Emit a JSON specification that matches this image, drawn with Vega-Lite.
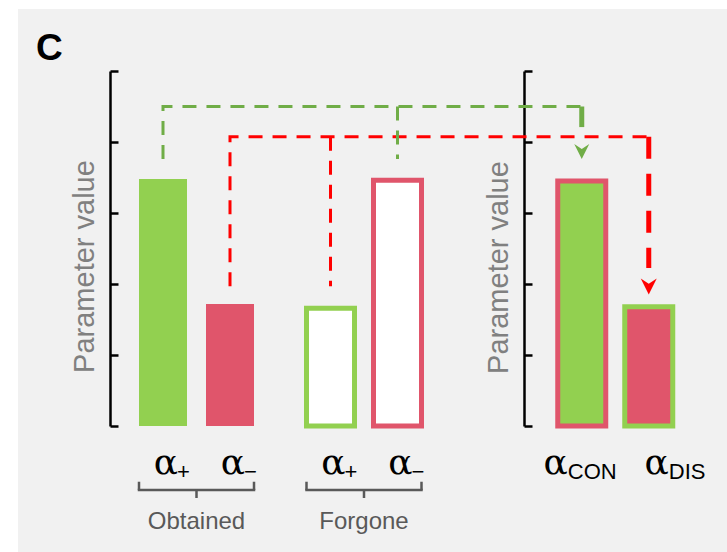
{
  "$schema": "https://vega.github.io/schema/vega-lite/v6.json",
  "width": 709,
  "height": 543,
  "autosize": "none",
  "padding": {"left": 18, "top": 9, "right": 0, "bottom": 0},
  "background": "#ffffff",
  "config": {"view": {"fill": "#f1f1f1", "stroke": null}, "font": "Liberation Sans"},
  "title": {"text": "C", "anchor": "start", "frame": "group", "offset": 0, "dx": 18, "dy": 88, "baseline": "alphabetic", "fontSize": 37, "fontWeight": "bold", "font": "Liberation Sans", "color": "#000000"},
  "datasets": {
    "bars": [
      {"param": "O+", "outcome": "Obtained", "sub": "+", "value": 3.48, "fillSign": "positive", "edgeSign": "none"},
      {"param": "O−", "outcome": "Obtained", "sub": "−", "value": 1.72, "fillSign": "negative", "edgeSign": "none"},
      {"param": "F+", "outcome": "Forgone", "sub": "+", "value": 1.66, "fillSign": "none", "edgeSign": "positive"},
      {"param": "F−", "outcome": "Forgone", "sub": "−", "value": 3.46, "fillSign": "none", "edgeSign": "negative"},
      {"param": "CON", "outcome": "Combined", "sub": "CON", "value": 3.45, "fillSign": "positive", "edgeSign": "negative"},
      {"param": "DIS", "outcome": "Combined", "sub": "DIS", "value": 1.68, "fillSign": "negative", "edgeSign": "positive"}
    ],
    "links": [
      {"path": "gain", "step": 1, "param": "O+", "level": 3.76},
      {"path": "gain", "step": 2, "param": "O+", "level": 4.5},
      {"path": "gain", "step": 3, "param": "CON", "level": 4.5},
      {"path": "loss", "step": 1, "param": "O−", "level": 1.97},
      {"path": "loss", "step": 2, "param": "O−", "level": 4.075},
      {"path": "loss", "step": 3, "param": "DIS", "level": 4.075}
    ],
    "branches": [
      {"path": "gain", "param": "F−", "top": 4.5, "bottom": 3.76},
      {"path": "loss", "param": "F+", "top": 4.075, "bottom": 1.97}
    ],
    "arrows": [
      {"path": "gain", "param": "CON", "top": 4.5, "shaftEnd": 4.21, "head": 3.866},
      {"path": "loss", "param": "DIS", "top": 4.075, "shaftEnd": 2.225, "head": 1.965}
    ],
    "brackets": [
      {"outcome": "Obtained", "param": "O+", "last": "O−"},
      {"outcome": "Forgone", "param": "F+", "last": "F−"}
    ]
  },
  "encoding": {
    "x": {"field": "param", "type": "nominal", "axis": null,
      "scale": {"type": "band", "paddingInner": 0, "paddingOuter": 0, "range": [136.625, 639.125],
        "domain": ["O+", "_1", "_2", "_3", "O−", "_5", "_6", "_7", "_8", "_9", "F+", "_11", "_12", "_13", "F−", "_15", "_16", "_17", "_18", "_19", "_20", "_21", "_22", "_23", "_24", "CON", "_26", "_27", "_28", "DIS"]}}
  },
  "layer": [
    {
      "data": {"name": "bars"},
      "transform": [{"filter": "datum.outcome !== 'Combined'"}],
      "mark": {"type": "bar", "width": 48, "strokeWidth": 5, "y2Offset": 2},
      "encoding": {
        "y": {"field": "value", "type": "quantitative", "stack": null,
          "scale": {"domain": [0, 5], "range": [417, 62], "nice": false, "zero": false},
          "axis": {"orient": "left", "offset": -92, "values": [0, 1, 2, 3, 4, 5], "labels": false, "grid": false, "tickSize": -8, "tickWidth": 2.5, "tickColor": "#000000", "domainColor": "#000000", "domainWidth": 2.5, "title": "Parameter value", "titleFont": "Liberation Sans", "titleFontSize": 29, "titleFontWeight": "normal", "titleColor": "#808080", "titleAngle": -90, "titleAlign": "center", "titleBaseline": "alphabetic", "titleX": -17, "titleY": 257}},
        "fill": {"field": "fillSign", "type": "nominal", "legend": null, "scale": {"domain": ["positive", "negative", "none"], "range": ["#92d050", "#e0556b", "#ffffff"]}},
        "stroke": {"field": "edgeSign", "type": "nominal", "legend": null, "scale": {"domain": ["positive", "negative", "none"], "range": ["#92d050", "#e0556b", "rgba(0,0,0,0)"]}}
      }
    },
    {
      "data": {"name": "bars"},
      "transform": [{"filter": "datum.outcome === 'Combined'"}],
      "mark": {"type": "bar", "width": 48, "strokeWidth": 5, "y2Offset": 2},
      "encoding": {
        "y": {"field": "value", "type": "quantitative", "stack": null,
          "scale": {"domain": [0, 5], "range": [417, 62], "nice": false, "zero": false},
          "axis": {"orient": "left", "offset": -506, "values": [0, 1, 2, 3, 4, 5], "labels": false, "grid": false, "tickSize": -8, "tickWidth": 2.5, "tickColor": "#000000", "domainColor": "#000000", "domainWidth": 2.5, "title": "Parameter value", "titleFont": "Liberation Sans", "titleFontSize": 29, "titleFontWeight": "normal", "titleColor": "#808080", "titleAngle": -90, "titleAlign": "center", "titleBaseline": "alphabetic", "titleX": -17, "titleY": 258}},
        "fill": {"field": "fillSign", "type": "nominal", "legend": null, "scale": {"domain": ["positive", "negative", "none"], "range": ["#92d050", "#e0556b", "#ffffff"]}},
        "stroke": {"field": "edgeSign", "type": "nominal", "legend": null, "scale": {"domain": ["positive", "negative", "none"], "range": ["#92d050", "#e0556b", "rgba(0,0,0,0)"]}}
      }
    },
    {
      "data": {"name": "links"},
      "transform": [{"filter": "datum.path === 'gain'"}],
      "mark": {"type": "line", "color": "#70ad47", "strokeWidth": 3, "strokeDash": [14, 10]},
      "encoding": {
        "y": {"field": "level", "type": "quantitative", "axis": null, "scale": {"domain": [0, 5], "range": [417, 62], "nice": false, "zero": false}},
        "order": {"field": "step", "type": "quantitative"}
      }
    },
    {
      "data": {"name": "links"},
      "transform": [{"filter": "datum.path === 'loss'"}],
      "mark": {"type": "line", "color": "#ff0000", "strokeWidth": 3, "strokeDash": [14, 10]},
      "encoding": {
        "y": {"field": "level", "type": "quantitative", "axis": null, "scale": {"domain": [0, 5], "range": [417, 62], "nice": false, "zero": false}},
        "order": {"field": "step", "type": "quantitative"}
      }
    },
    {
      "data": {"name": "branches"},
      "transform": [{"filter": "datum.path === 'gain'"}],
      "mark": {"type": "rule", "color": "#70ad47", "strokeWidth": 3, "strokeDash": [14, 10]},
      "encoding": {
        "y": {"field": "top", "type": "quantitative", "axis": null, "scale": {"domain": [0, 5], "range": [417, 62], "nice": false, "zero": false}},
        "y2": {"field": "bottom"}
      }
    },
    {
      "data": {"name": "branches"},
      "transform": [{"filter": "datum.path === 'loss'"}],
      "mark": {"type": "rule", "color": "#ff0000", "strokeWidth": 3, "strokeDash": [14, 10]},
      "encoding": {
        "y": {"field": "top", "type": "quantitative", "axis": null, "scale": {"domain": [0, 5], "range": [417, 62], "nice": false, "zero": false}},
        "y2": {"field": "bottom"}
      }
    },
    {
      "data": {"name": "arrows"},
      "transform": [{"filter": "datum.path === 'gain'"}],
      "mark": {"type": "rule", "color": "#70ad47", "strokeWidth": 5},
      "encoding": {
        "y": {"field": "top", "type": "quantitative", "axis": null, "scale": {"domain": [0, 5], "range": [417, 62], "nice": false, "zero": false}},
        "y2": {"field": "shaftEnd"}
      }
    },
    {
      "data": {"name": "arrows"},
      "transform": [{"filter": "datum.path === 'loss'"}],
      "mark": {"type": "rule", "color": "#ff0000", "strokeWidth": 5, "strokeDash": [22, 15]},
      "encoding": {
        "y": {"field": "top", "type": "quantitative", "axis": null, "scale": {"domain": [0, 5], "range": [417, 62], "nice": false, "zero": false}},
        "y2": {"field": "shaftEnd"}
      }
    },
    {
      "data": {"name": "arrows"},
      "transform": [{"filter": "datum.path === 'gain'"}],
      "mark": {"type": "point", "filled": true, "opacity": 1, "fill": "#70ad47", "strokeWidth": 0, "size": 225, "shape": "M-1,-1L0,-0.35L1,-1L0,1Z"},
      "encoding": {
        "y": {"field": "head", "type": "quantitative", "axis": null, "scale": {"domain": [0, 5], "range": [417, 62], "nice": false, "zero": false}}
      }
    },
    {
      "data": {"name": "arrows"},
      "transform": [{"filter": "datum.path === 'loss'"}],
      "mark": {"type": "point", "filled": true, "opacity": 1, "fill": "#ff0000", "strokeWidth": 0, "size": 256, "shape": "M-1,-1L0,-0.35L1,-1L0,1Z"},
      "encoding": {
        "y": {"field": "head", "type": "quantitative", "axis": null, "scale": {"domain": [0, 5], "range": [417, 62], "nice": false, "zero": false}}
      }
    },
    {
      "data": {"name": "brackets"},
      "mark": {"type": "rule", "color": "#595959", "strokeWidth": 2.5, "strokeCap": "square", "xOffset": -24, "x2Offset": 24},
      "encoding": {
        "x2": {"field": "last"},
        "y": {"datum": -0.9, "type": "quantitative", "axis": null, "scale": {"domain": [0, 5], "range": [417, 62], "nice": false, "zero": false}}
      }
    },
    {
      "data": {"name": "brackets"},
      "mark": {"type": "rule", "color": "#595959", "strokeWidth": 2.5, "xOffset": -24},
      "encoding": {
        "y": {"datum": -0.785, "type": "quantitative", "axis": null, "scale": {"domain": [0, 5], "range": [417, 62], "nice": false, "zero": false}},
        "y2": {"datum": -0.9}
      }
    },
    {
      "data": {"name": "brackets"},
      "mark": {"type": "rule", "color": "#595959", "strokeWidth": 2.5, "xOffset": 24},
      "encoding": {
        "x": {"field": "last", "type": "nominal", "axis": null},
        "y": {"datum": -0.785, "type": "quantitative", "axis": null, "scale": {"domain": [0, 5], "range": [417, 62], "nice": false, "zero": false}},
        "y2": {"datum": -0.9}
      }
    },
    {
      "data": {"name": "brackets"},
      "mark": {"type": "rule", "color": "#595959", "strokeWidth": 2.5, "xOffset": 33.5},
      "encoding": {
        "y": {"datum": -0.9, "type": "quantitative", "axis": null, "scale": {"domain": [0, 5], "range": [417, 62], "nice": false, "zero": false}},
        "y2": {"datum": -1.014}
      }
    },
    {
      "data": {"name": "brackets"},
      "mark": {"type": "text", "font": "Liberation Sans", "fontSize": 24, "color": "#595959", "align": "center", "baseline": "alphabetic", "dx": 33.5},
      "encoding": {
        "text": {"field": "outcome"},
        "y": {"datum": -1.45, "type": "quantitative", "axis": null, "scale": {"domain": [0, 5], "range": [417, 62], "nice": false, "zero": false}}
      }
    },
    {
      "data": {"name": "bars"},
      "transform": [{"filter": "datum.outcome !== 'Combined'"}],
      "mark": {"type": "text", "text": "α", "font": "DejaVu Serif", "fontSize": 36, "color": "#000000", "align": "center", "baseline": "alphabetic", "dx": 3},
      "encoding": {
        "y": {"datum": -0.67, "type": "quantitative", "axis": null, "scale": {"domain": [0, 5], "range": [417, 62], "nice": false, "zero": false}}
      }
    },
    {
      "data": {"name": "bars"},
      "transform": [{"filter": "datum.outcome !== 'Combined'"}],
      "mark": {"type": "text", "font": "Liberation Sans", "fontSize": 22, "color": "#000000", "align": "left", "baseline": "alphabetic", "dx": 14},
      "encoding": {
        "text": {"field": "sub"},
        "y": {"datum": -0.746, "type": "quantitative", "axis": null, "scale": {"domain": [0, 5], "range": [417, 62], "nice": false, "zero": false}}
      }
    },
    {
      "data": {"name": "bars"},
      "transform": [{"filter": "datum.param === 'CON'"}],
      "mark": {"type": "text", "text": "α", "font": "DejaVu Serif", "fontSize": 36, "color": "#000000", "align": "center", "baseline": "alphabetic", "dx": -26},
      "encoding": {
        "y": {"datum": -0.67, "type": "quantitative", "axis": null, "scale": {"domain": [0, 5], "range": [417, 62], "nice": false, "zero": false}}
      }
    },
    {
      "data": {"name": "bars"},
      "transform": [{"filter": "datum.param === 'CON'"}],
      "mark": {"type": "text", "font": "Liberation Sans", "fontSize": 22, "color": "#000000", "align": "left", "baseline": "alphabetic", "dx": -14},
      "encoding": {
        "text": {"field": "sub"},
        "y": {"datum": -0.746, "type": "quantitative", "axis": null, "scale": {"domain": [0, 5], "range": [417, 62], "nice": false, "zero": false}}
      }
    },
    {
      "data": {"name": "bars"},
      "transform": [{"filter": "datum.param === 'DIS'"}],
      "mark": {"type": "text", "text": "α", "font": "DejaVu Serif", "fontSize": 36, "color": "#000000", "align": "center", "baseline": "alphabetic", "dx": 8},
      "encoding": {
        "y": {"datum": -0.67, "type": "quantitative", "axis": null, "scale": {"domain": [0, 5], "range": [417, 62], "nice": false, "zero": false}}
      }
    },
    {
      "data": {"name": "bars"},
      "transform": [{"filter": "datum.param === 'DIS'"}],
      "mark": {"type": "text", "font": "Liberation Sans", "fontSize": 22, "color": "#000000", "align": "left", "baseline": "alphabetic", "dx": 20},
      "encoding": {
        "text": {"field": "sub"},
        "y": {"datum": -0.746, "type": "quantitative", "axis": null, "scale": {"domain": [0, 5], "range": [417, 62], "nice": false, "zero": false}}
      }
    }
  ],
  "resolve": {"axis": {"y": "independent"}}
}
